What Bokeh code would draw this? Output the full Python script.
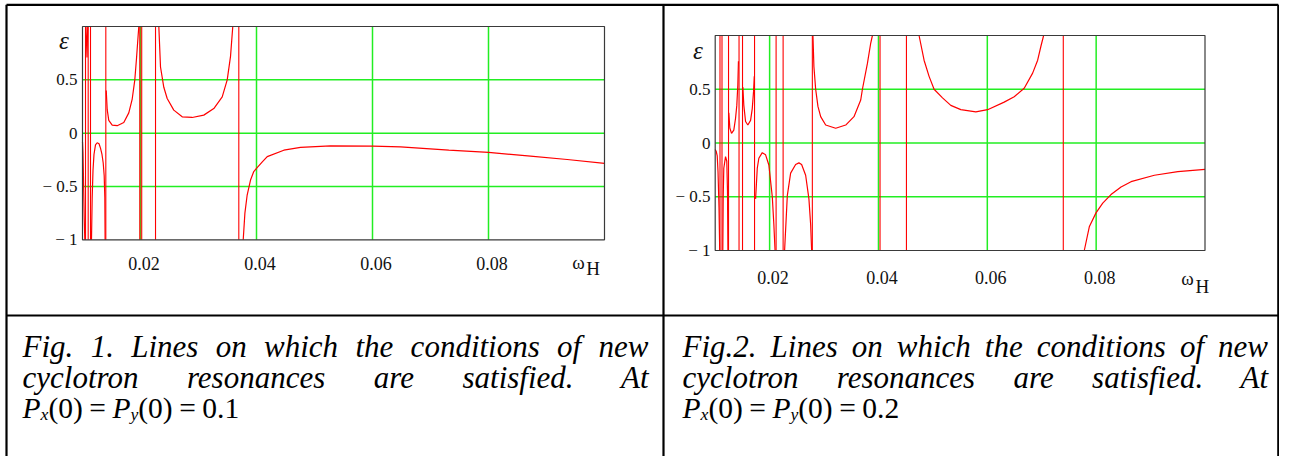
from bokeh.plotting import figure
from bokeh.models import Range1d
from bokeh.embed import file_html
from bokeh.resources import INLINE
from bokeh.core.properties import value

# ---------------- data ----------------
X_MIN, X_MAX = 0.01, 0.1
Y_MIN, Y_MAX = -1.0, 1.0
XTICKS = [0.02, 0.04, 0.06, 0.08]
XTICK_LABELS = ["0.02", "0.04", "0.06", "0.08"]
YTICKS = [-1.0, -0.5, 0.0, 0.5]
YTICK_LABELS = ["\u2212 1", "\u2212 0.5", "0", "0.5"]
GRID_X = [0.02, 0.04, 0.06, 0.08]
GRID_Y = [-0.5, 0.0, 0.5]
Y_NAME = "\u03b5"
X_NAME = "\u03c9"
X_NAME_SUB = "H"

# Fig. 1  (Px(0) = Py(0) = 0.1)
f1_b1_x = [0.0100, 0.01008, 0.01018, 0.01030, 0.01040]
f1_b1_y = [-0.08, -0.18, -0.45, -0.80, -1.00]
f1_b2_x = [0.01060, 0.01078, 0.01090]
f1_b2_y = [1.00, 0.71, 1.00]
f1_b3_x = [0.01155, 0.01167, 0.01181, 0.01198, 0.01224, 0.01253, 0.01285,
           0.01310, 0.01336, 0.01357, 0.01374, 0.01385, 0.01390]
f1_b3_y = [-1.00, -0.60, -0.35, -0.20, -0.11, -0.09, -0.10,
           -0.14, -0.20, -0.28, -0.40, -0.60, -1.00]
f1_b4_x = [0.01409, 0.01426, 0.01453, 0.01512, 0.01598, 0.01712, 0.01798,
           0.01857, 0.01902, 0.01931, 0.01960, 0.01971]
f1_b4_y = [0.40, 0.22, 0.12, 0.075, 0.07, 0.10, 0.19,
           0.32, 0.50, 0.70, 0.92, 1.00]
f1_b5_x = [0.02316, 0.02345, 0.02402, 0.02460, 0.02574, 0.02719, 0.02891,
           0.03091, 0.03264, 0.03409, 0.03495, 0.03552, 0.03591]
f1_b5_y = [1.00, 0.62, 0.43, 0.325, 0.216, 0.153, 0.147,
           0.169, 0.23, 0.34, 0.50, 0.72, 1.00]
f1_b6_x = [0.03771, 0.03800, 0.03839, 0.03897, 0.03953, 0.04000, 0.04100,
           0.04185, 0.04471, 0.04759, 0.05276, 0.06005, 0.06483, 0.07316,
           0.08000, 0.08724, 0.09357, 0.10000]
f1_b6_y = [-1.00, -0.75, -0.58, -0.44, -0.36, -0.33, -0.27,
           -0.22, -0.16, -0.134, -0.119, -0.122, -0.128, -0.16,
           -0.181, -0.216, -0.247, -0.284]
f1_poles = [0.01052, 0.01098, 0.01138, 0.01402, 0.01988, 0.02021, 0.02259, 0.03695]

# Fig. 2  (Px(0) = Py(0) = 0.2)
f2_b1_x = [0.0100, 0.01020, 0.01037, 0.01052, 0.01070, 0.01083]
f2_b1_y = [-0.06, -0.08, -0.12, -0.27, -0.60, -1.00]
f2_b2_x = [0.01140, 0.01147, 0.01158, 0.01190, 0.01213, 0.01226, 0.01234]
f2_b2_y = [-1.00, -0.50, -0.235, -0.127, -0.17, -0.45, -1.00]
f2_b3_x = [0.01250, 0.01269, 0.01300, 0.01342, 0.01374, 0.01397, 0.01416, 0.01427]
f2_b3_y = [0.28, 0.14, 0.09, 0.12, 0.23, 0.35, 0.54, 0.76]
f2_b4_x = [0.01508, 0.01526, 0.01558, 0.01600, 0.01650, 0.01681, 0.01705, 0.01718]
f2_b4_y = [0.52, 0.35, 0.20, 0.167, 0.21, 0.32, 0.48, 0.62]
f2_b5_x = [0.01742, 0.01773, 0.01802, 0.01865, 0.01926, 0.01986, 0.02049, 0.02078, 0.02100]
f2_b5_y = [-0.52, -0.235, -0.142, -0.09, -0.11, -0.205, -0.50, -0.76, -1.00]
f2_b6_x = [0.02275, 0.02325, 0.02386, 0.02478, 0.02538, 0.02588, 0.02662,
           0.02722, 0.02754, 0.02772]
f2_b6_y = [-1.00, -0.49, -0.28, -0.20, -0.185, -0.20, -0.30, -0.52, -0.76, -1.00]
f2_b7_x = [0.02796, 0.02814, 0.02846, 0.02888, 0.02938, 0.03030, 0.03214,
           0.03398, 0.03550, 0.03674, 0.03705, 0.03797, 0.03858, 0.03889]
f2_b7_y = [1.00, 0.71, 0.50, 0.34, 0.245, 0.167, 0.137,
           0.167, 0.245, 0.40, 0.50, 0.74, 0.93, 1.00]
f2_b8_x = [0.04746, 0.04838, 0.04930, 0.05022, 0.05177, 0.05329, 0.05513,
           0.05789, 0.06005, 0.06310, 0.06494, 0.06678, 0.06833, 0.06925,
           0.06985, 0.07035]
f2_b8_y = [1.00, 0.77, 0.62, 0.50, 0.42, 0.35, 0.31,
           0.29, 0.31, 0.38, 0.43, 0.51, 0.65, 0.77,
           0.90, 1.00]
f2_b9_x = [0.07782, 0.07874, 0.07997, 0.08121, 0.08273, 0.08457, 0.08641,
           0.09070, 0.09501, 0.10000]
f2_b9_y = [-1.00, -0.78, -0.65, -0.56, -0.48, -0.41, -0.36, -0.30, -0.267, -0.245]
f2_poles = [0.01088, 0.01125, 0.01245, 0.01438, 0.01502, 0.01723, 0.02119,
            0.02248, 0.02785, 0.04029, 0.04514, 0.07396]

CAP1_L1 = ["Fig.", "1.", "Lines", "on", "which", "the", "conditions", "of", "new"]
CAP2_L1 = ["Fig.2.", "Lines", "on", "which", "the", "conditions", "of", "new"]
CAP_L2 = ["cyclotron", "resonances", "are", "satisfied.", "At"]
CAP1_VAL = "0.1"
CAP2_VAL = "0.2"

# ---------------- layout / style ----------------
PX0, PY0 = 0, 0
W, H = 1279, 456
RED = "#ff0000"
GREEN = "#22ee22"
SERIF = value("Liberation Serif")

p = figure(width=W, height=H, x_range=Range1d(PX0, PX0 + W), y_range=Range1d(PY0 + H, PY0),
           x_axis_type=None, y_axis_type=None, output_backend="svg",
           toolbar_location=None, min_border=0)
p.grid.visible = False
p.outline_line_color = None
p.background_fill_color = "white"

charts = {
    "c1": dict(L=82.0, R=604.0, T=26.0, B=239.3, ylab_x=77.0, xlab_base=263.0,
               eps=(63.5, 40.0), om=(-32.3, 261.5), hh=(-18.3, 268.3)),
    "c2": dict(L=714.7, R=1204.5, T=35.0, B=250.0, ylab_x=710.0, xlab_base=276.5,
               eps=(697.5, 50.0), om=(-23.8, 277.5), hh=(-9.5, 285.5)),
}
xr, yr = {}, {}
for name, c in charts.items():
    kx = (X_MAX - X_MIN) / (c["R"] - c["L"])
    ky = (Y_MAX - Y_MIN) / (c["B"] - c["T"])
    xr[name + "x"] = Range1d(X_MIN - (c["L"] - PX0) * kx, X_MIN + (PX0 + W - c["L"]) * kx)
    yr[name + "y"] = Range1d(Y_MIN - (PY0 + H - c["B"]) * ky, Y_MAX + (c["T"] - PY0) * ky)
p.extra_x_ranges = xr
p.extra_y_ranges = yr

branches = {
    "c1": ([f1_b1_x, f1_b2_x, f1_b3_x, f1_b4_x, f1_b5_x, f1_b6_x],
           [f1_b1_y, f1_b2_y, f1_b3_y, f1_b4_y, f1_b5_y, f1_b6_y], f1_poles),
    "c2": ([f2_b1_x, f2_b2_x, f2_b3_x, f2_b4_x, f2_b5_x, f2_b6_x, f2_b7_x, f2_b8_x, f2_b9_x],
           [f2_b1_y, f2_b2_y, f2_b3_y, f2_b4_y, f2_b5_y, f2_b6_y, f2_b7_y, f2_b8_y, f2_b9_y],
           f2_poles),
}

for name, c in charts.items():
    rn = dict(x_range_name=name + "x", y_range_name=name + "y")
    p.segment(x0=GRID_X, y0=Y_MIN, x1=GRID_X, y1=Y_MAX, line_color=GREEN, line_width=1.5, **rn)
    p.segment(x0=X_MIN, y0=GRID_Y, x1=X_MAX, y1=GRID_Y, line_color=GREEN, line_width=1.5, **rn)
    bx, by, poles = branches[name]
    p.segment(x0=poles, y0=Y_MIN, x1=poles, y1=Y_MAX, line_color=RED, line_width=1.1, **rn)
    p.multi_line(xs=bx, ys=by, line_color=RED, line_width=1.2, **rn)
    p.quad(left=X_MIN, right=X_MAX, bottom=Y_MIN, top=Y_MAX, fill_color=None,
           line_color="#3a3a3a", line_width=1.2, **rn)
    p.text(x=XTICKS, y=[c["xlab_base"]] * len(XTICKS), text=XTICK_LABELS,
           x_range_name=name + "x", y_range_name="default", x_offset=3.5,
           text_font=SERIF, text_font_size="18px", text_align="center",
           text_baseline="alphabetic", text_color="#111111")
    p.text(x=[c["ylab_x"]] * len(YTICKS), y=YTICKS, text=YTICK_LABELS,
           x_range_name="default", y_range_name=name + "y",
           text_font=SERIF, text_font_size="17px", text_align="right",
           text_baseline="middle", text_color="#111111")
    p.text(x=[c["eps"][0]], y=[c["eps"][1]], text=[Y_NAME], text_font=SERIF,
           text_font_size="25px", text_font_style="italic", text_align="center",
           text_baseline="middle", text_color="#111111")
    p.text(x=[X_MAX], y=[c["om"][1]], text=[X_NAME], x_range_name=name + "x",
           y_range_name="default", x_offset=c["om"][0], text_font=SERIF,
           text_font_size="19px", text_align="left", text_baseline="alphabetic",
           text_color="#111111")
    p.text(x=[X_MAX], y=[c["hh"][1]], text=[X_NAME_SUB], x_range_name=name + "x",
           y_range_name="default", x_offset=c["hh"][0], text_font=SERIF,
           text_font_size="19px", text_align="left", text_baseline="alphabetic",
           text_color="#111111")

# table borders
BL, BM, BR, BT, BH = 6.0, 663.0, 1277.8, 4.3, 315.0
p.segment(x0=[BL, BL], y0=[BT, BH], x1=[BR, BR], y1=[BT, BH], line_color="black", line_width=2.2)
p.segment(x0=[BL, BM, BR], y0=[BT] * 3, x1=[BL, BM, BR], y1=[480] * 3,
          line_color="black", line_width=2.2)

# Times-metric advance widths (per 1000 em) used to justify / lay out the captions
TI = {"F": 611, "i": 278, "g": 500, ".": 250, "1": 500, "2": 500, "L": 556, "n": 500,
      "e": 444, "s": 389, "o": 500, "w": 667, "h": 500, "c": 444, "t": 278, "d": 500,
      "f": 278, "y": 444, "l": 278, "r": 389, "a": 500, "A": 611, "P": 611, "x": 444}
TR = {"(": 333, ")": 333, "0": 500, "1": 500, "2": 500, ".": 250, "=": 564}
CAP_FS = 31.0
MATH_FS = 29.5


def justify(words, x0, x1, fs):
    widths = [sum(TI[ch] for ch in w) * fs / 1000.0 for w in words]
    gap = (x1 - x0 - sum(widths)) / (len(words) - 1)
    xs, x = [], x0
    for wd in widths:
        xs.append(x)
        x += wd + gap
    return xs


def caption(l1, x0, x1, val):
    for words, base in ((l1, 346.0), (CAP_L2, 376.5)):
        xs = justify(words, x0, x1, CAP_FS)
        p.text(x=xs[:-1], y=[base] * (len(words) - 1), text=words[:-1], text_font=SERIF,
               text_font_size=f"{CAP_FS:.0f}px", text_font_style="italic",
               text_align="left", text_baseline="alphabetic", text_color="black")
        p.text(x=[x1], y=[base], text=words[-1:], text_font=SERIF,
               text_font_size=f"{CAP_FS:.0f}px", text_font_style="italic",
               text_align="right", text_baseline="alphabetic", text_color="black")
    base = 407.5
    f, fs_sub, sp = MATH_FS, MATH_FS * 0.6, MATH_FS * 0.22
    seq = [("P", f, "italic", 0.0, TI, 0.0), ("x", fs_sub, "italic", 0.2 * f, TI, 0.0),
           ("(0)", f, "normal", 0.0, TR, sp), ("=", f, "normal", 0.0, TR, sp),
           ("P", f, "italic", 0.0, TI, 0.0), ("y", fs_sub, "italic", 0.2 * f, TI, 0.0),
           ("(0)", f, "normal", 0.0, TR, sp), ("=", f, "normal", 0.0, TR, sp),
           (val, f, "normal", 0.0, TR, 0.0)]
    x = x0
    for t, size, st, dy, table, after in seq:
        p.text(x=[x], y=[base + dy], text=[t], text_font=SERIF,
               text_font_size=f"{size:.1f}px", text_font_style=st, text_align="left",
               text_baseline="alphabetic", text_color="black")
        x += sum(table[ch] for ch in t) * size / 1000.0 + after


caption(CAP1_L1, 22.0, 648.0, CAP1_VAL)
caption(CAP2_L1, 682.0, 1267.5, CAP2_VAL)

open("out.html", "w").write(file_html(p, INLINE))
